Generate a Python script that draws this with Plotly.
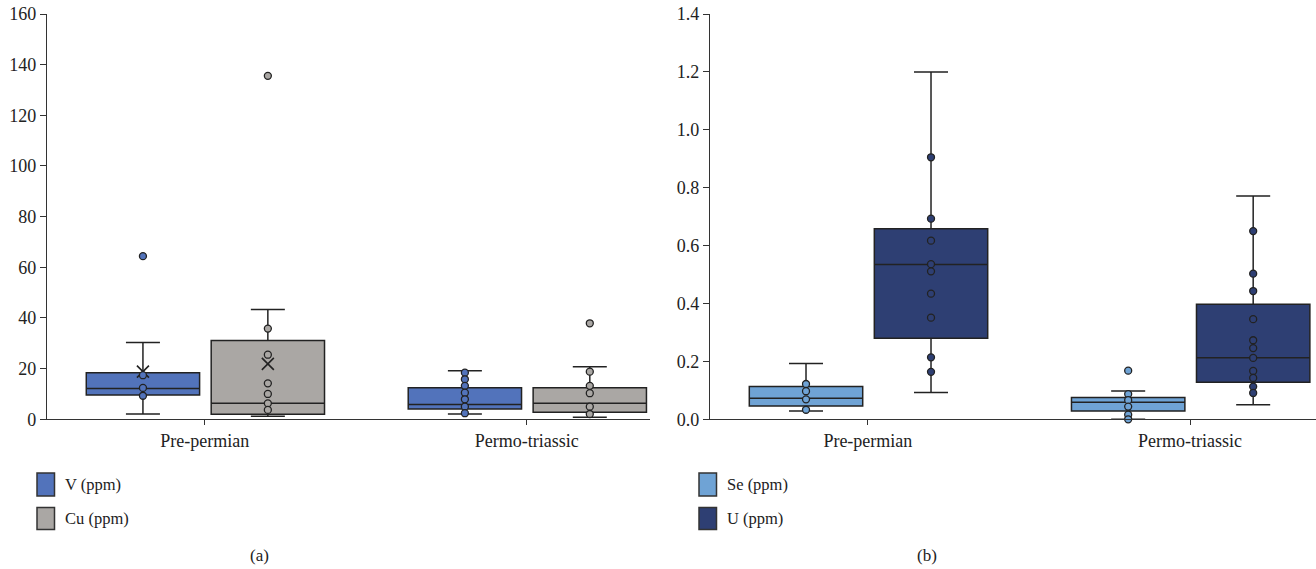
import plotly.graph_objects as go

W, H = 1316, 569

categories = ["Pre-permian", "Permo-triassic"]

# ---- Panel (a) ----
V_q1 = [9.6, 4.1]
V_median = [12.2, 5.8]
V_q3 = [18.4, 12.5]
V_low = [2.1, 2.1]
V_high = [30.3, 19.2]
V_pre_points = [64.4, 17.4, 12.4, 9.3]
V_permo_points = [18.4, 15.8, 13.2, 10.5, 7.9, 5.0, 2.4]
V_mean = [18.8, None]

Cu_q1 = [2.0, 2.8]
Cu_median = [6.3, 6.3]
Cu_q3 = [31.1, 12.5]
Cu_low = [1.2, 0.8]
Cu_high = [43.3, 20.7]
Cu_pre_points = [135.6, 35.8, 25.5, 14.2, 10.0, 6.3, 3.7]
Cu_permo_points = [37.9, 18.8, 13.2, 10.3, 5.0, 2.1]
Cu_mean = [21.9, None]

# ---- Panel (b) ----
Se_q1 = [0.046, 0.029]
Se_median = [0.0725, 0.059]
Se_q3 = [0.113, 0.075]
Se_low = [0.029, 0.0]
Se_high = [0.193, 0.098]
Se_pre_points = [0.122, 0.097, 0.069, 0.033]
Se_permo_points = [0.168, 0.087, 0.066, 0.044, 0.016, 0.0]

U_q1 = [0.280, 0.128]
U_median = [0.535, 0.213]
U_q3 = [0.658, 0.397]
U_low = [0.093, 0.050]
U_high = [1.20, 0.771]
U_pre_points = [0.905, 0.693, 0.617, 0.536, 0.511, 0.434, 0.351, 0.214, 0.164]
U_permo_points = [0.650, 0.503, 0.443, 0.346, 0.273, 0.246, 0.212, 0.167, 0.143, 0.113, 0.091]

COL_V = "#5273bb"
COL_CU = "#aaa7a4"
COL_SE = "#6fa3d5"
COL_U = "#2e3f73"
EDGE = "#222222"
FONT = "Liberation Serif"

OFF_L, OFF_R = -0.192, 0.196
BOXW = 0.352
idx = list(range(len(categories)))

fig = go.Figure()


def add_series(xa, ya, offset, q1, med, q3, lo, hi, pts_lists, color, means=None):
    xs = [i + offset for i in idx]
    fig.add_trace(go.Box(
        x=xs, q1=q1, median=med, q3=q3, lowerfence=lo, upperfence=hi,
        width=BOXW, whiskerwidth=0.3, boxpoints=False,
        fillcolor=color, line=dict(color=EDGE, width=1.5),
        xaxis=xa, yaxis=ya, showlegend=False, hoverinfo="skip"))
    if means:
        mx = [xs[i] for i, m in enumerate(means) if m is not None]
        my = [m for m in means if m is not None]
        fig.add_trace(go.Scatter(
            x=mx, y=my, mode="markers", xaxis=xa, yaxis=ya, showlegend=False,
            marker=dict(symbol="x-thin", size=12, line=dict(color=EDGE, width=1.6)),
            cliponaxis=False, hoverinfo="skip"))
    for i, pts in enumerate(pts_lists):
        fig.add_trace(go.Scatter(
            x=[xs[i]] * len(pts), y=pts, mode="markers", xaxis=xa, yaxis=ya,
            showlegend=False, cliponaxis=False,
            marker=dict(size=7, color=color, line=dict(color=EDGE, width=1.3))))


add_series("x", "y", OFF_L, V_q1, V_median, V_q3, V_low, V_high,
           [V_pre_points, V_permo_points], COL_V, V_mean)
add_series("x", "y", OFF_R, Cu_q1, Cu_median, Cu_q3, Cu_low, Cu_high,
           [Cu_pre_points, Cu_permo_points], COL_CU, Cu_mean)
add_series("x2", "y2", OFF_L, Se_q1, Se_median, Se_q3, Se_low, Se_high,
           [Se_pre_points, Se_permo_points], COL_SE)
add_series("x2", "y2", OFF_R, U_q1, U_median, U_q3, U_low, U_high,
           [U_pre_points, U_permo_points], COL_U)


def px(x):
    return x / W


def py(y):
    return 1 - y / H


ydom = [py(419.3), py(14)]
axis_common = dict(showline=True, linecolor="#333333", linewidth=1.3, showgrid=False,
                   zeroline=False, ticks="outside", tickcolor="#333333", tickwidth=1.2,
                   automargin=False)
yfont = dict(family=FONT, size=18, color="#222222")
xfont = dict(family=FONT, size=18, color="#222222")

fig.update_layout(
    width=W, height=H, margin=dict(l=0, r=0, t=0, b=0, pad=0, autoexpand=False),
    paper_bgcolor="white", plot_bgcolor="white",
    xaxis=dict(domain=[px(47), px(650)], range=[-0.49, 1.383], tickvals=idx,
               ticktext=categories, ticklen=5, anchor="y", tickfont=xfont, **axis_common),
    yaxis=dict(domain=ydom, range=[0, 160], dtick=20, ticklen=6, anchor="x",
               tickfont=yfont, **axis_common),
    xaxis2=dict(domain=[px(710), 1.0], range=[-0.49, 1.391], tickvals=idx,
                ticktext=categories, ticklen=5, anchor="y2", tickfont=xfont, **axis_common),
    yaxis2=dict(domain=ydom, range=[0, 1.4], dtick=0.2, tickformat=".1f", ticklen=6,
                anchor="x2", tickfont=yfont, **axis_common),
)

# Legends (drawn as shapes + text)
legend_items = [
    (37, 63, [("V (ppm)", COL_V), ("Cu (ppm)", COL_CU)]),
    (699, 725, [("Se (ppm)", COL_SE), ("U (ppm)", COL_U)]),
]
rows = [(473, 496, 484.5), (507.5, 529.5, 518.5)]
shapes, annotations = [], []
for sx, tx, items in legend_items:
    for (label, col), (y0, y1, yc) in zip(items, rows):
        shapes.append(dict(type="rect", xref="paper", yref="paper",
                           x0=px(sx), x1=px(sx + 17.5), y0=py(y1), y1=py(y0),
                           fillcolor=col, line=dict(color="#333333", width=1.5)))
        annotations.append(dict(text=label, xref="paper", yref="paper", x=px(tx), y=py(yc),
                                xanchor="left", yanchor="middle", showarrow=False,
                                font=dict(family=FONT, size=16.5, color="#222222")))
annotations.append(dict(text="(a)", xref="paper", yref="paper", x=px(259), y=py(555),
                        xanchor="center", yanchor="middle", showarrow=False,
                        font=dict(family=FONT, size=17, color="#222222")))
annotations.append(dict(text="(b)", xref="paper", yref="paper", x=px(927), y=py(555),
                        xanchor="center", yanchor="middle", showarrow=False,
                        font=dict(family=FONT, size=17, color="#222222")))
fig.update_layout(shapes=shapes, annotations=annotations)

fig.write_html("out.html")
